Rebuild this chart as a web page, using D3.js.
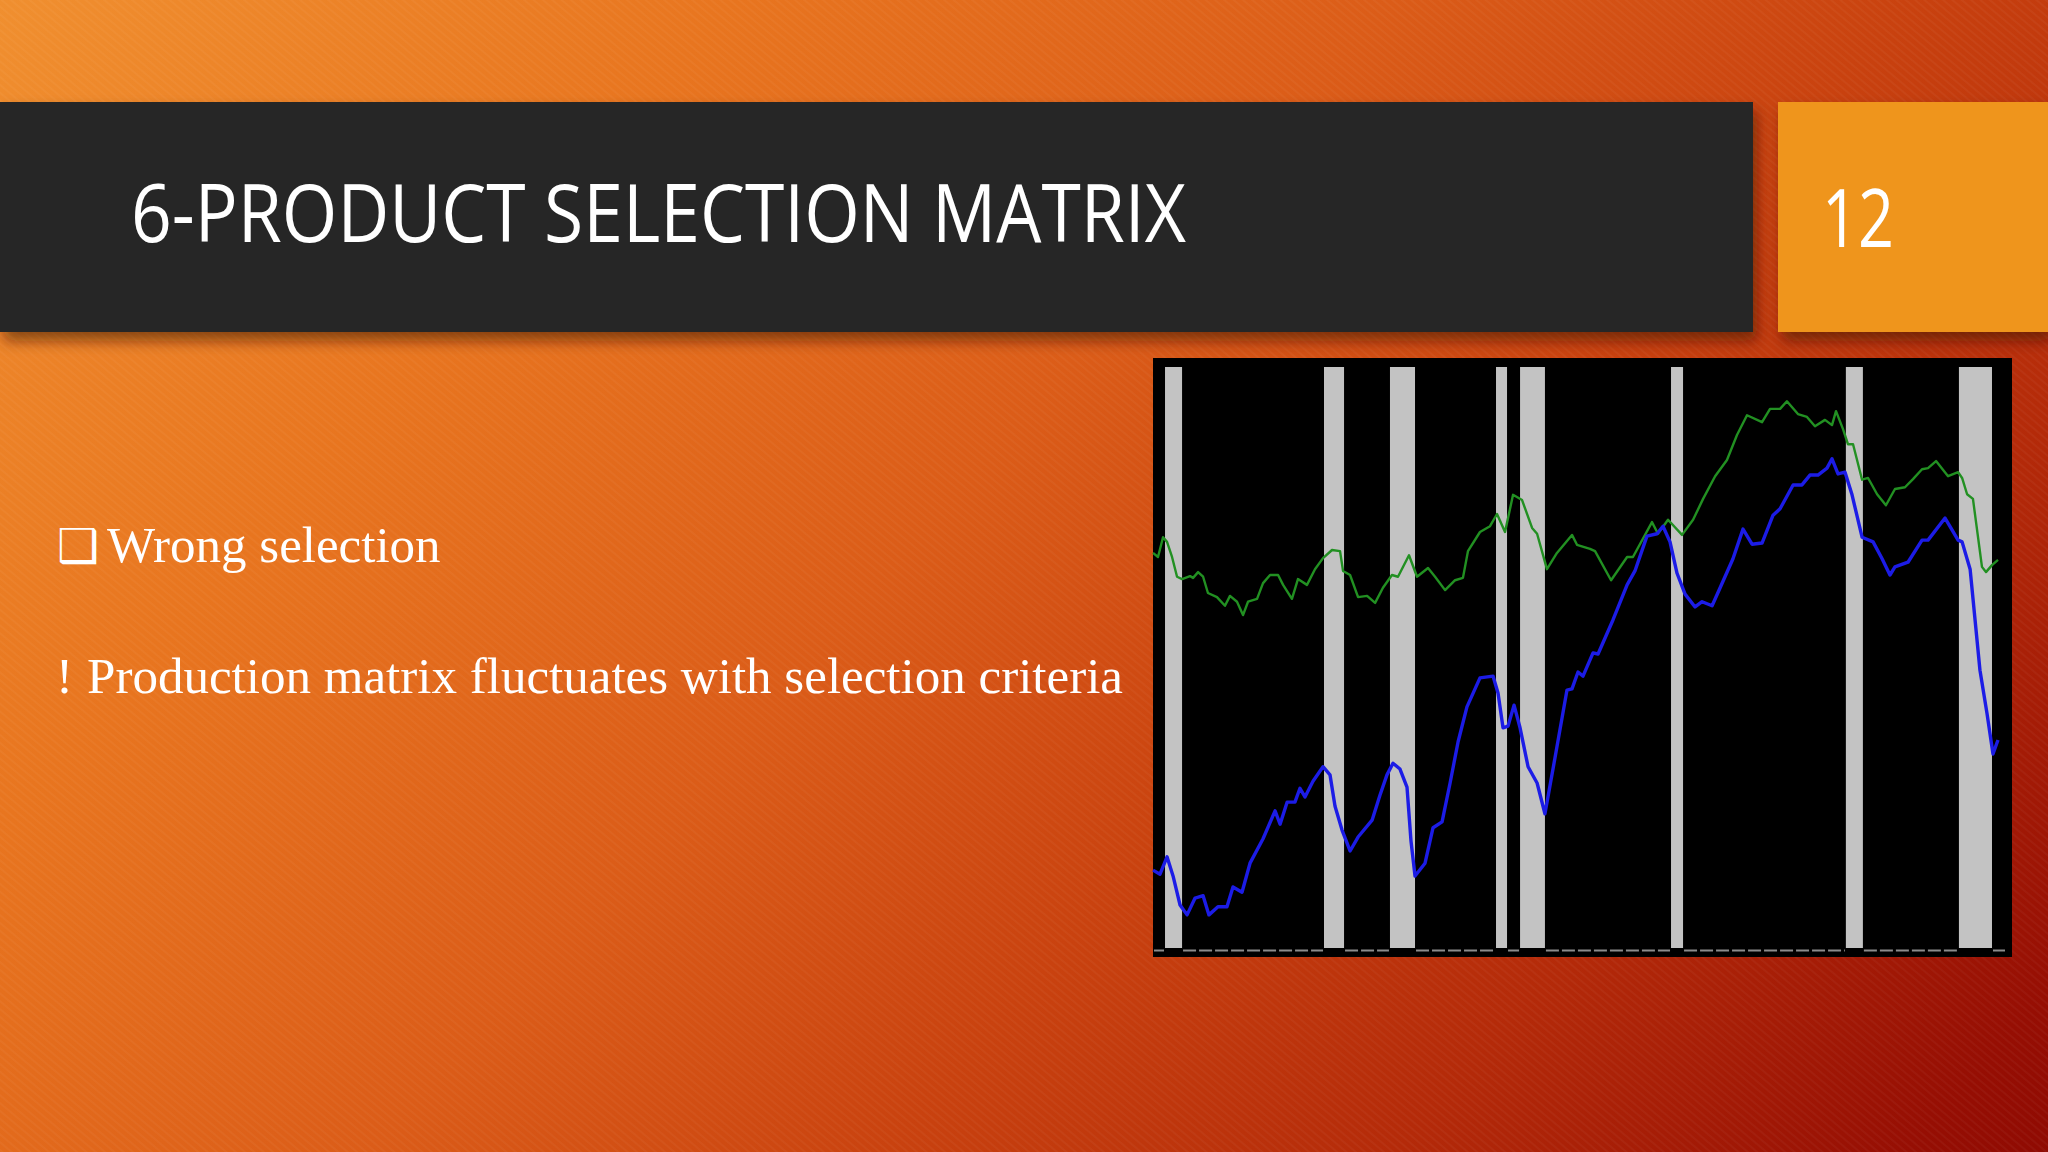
<!DOCTYPE html>
<html><head><meta charset="utf-8">
<script src="https://cdn.jsdelivr.net/npm/d3@7"></script>
<style>html,body{margin:0;padding:0;overflow:hidden;background:#000}</style>
</head><body>
<svg id="slide" width="2048" height="1152"></svg>
<script>
// ---- data ----
const titleText = "6-PRODUCT SELECTION MATRIX";
const slideNumber = "12";
const bullet1 = "Wrong selection";
const bullet2 = "Production matrix fluctuates with selection criteria";

// shaded periods (decimal years)
const shadeStart = [1960.33, 1969.85, 1973.80, 1980.15, 1981.59, 1990.63, 2001.10, 2007.87];
const shadeEnd   = [1961.35, 1971.05, 1975.30, 1980.81, 1983.08, 1991.35, 2002.12, 2009.85];

const greenYears = [1959.61,1959.91,1960.21,1960.45,1960.75,1961.05,1961.35,1961.83,1962.01,1962.31,1962.61,1962.90,1963.44,1963.92,1964.22,1964.64,1965.00,1965.30,1965.84,1966.20,1966.62,1967.10,1967.40,1967.93,1968.29,1968.83,1969.31,1969.79,1970.33,1970.81,1970.99,1971.41,1971.89,1972.43,1972.91,1973.38,1973.92,1974.28,1974.94,1975.42,1976.08,1976.50,1977.10,1977.70,1978.17,1978.47,1979.19,1979.79,1980.21,1980.69,1981.17,1981.71,1982.31,1982.61,1983.20,1983.80,1984.70,1985.00,1985.78,1986.08,1987.04,1988.00,1988.35,1989.49,1989.85,1990.45,1991.29,1991.95,1992.55,1993.27,1993.98,1994.58,1995.18,1996.08,1996.56,1997.16,1997.57,1998.23,1998.77,1999.25,1999.85,2000.27,2000.51,2000.93,2001.23,2001.53,2002.07,2002.43,2002.97,2003.50,2004.04,2004.64,2005.12,2005.66,2006.02,2006.50,2007.22,2007.82,2008.06,2008.36,2008.71,2009.25,2009.49,2009.85,2010.21];
const greenValues = [68.0,67.3,70.7,69.9,67.3,63.9,63.5,64.0,63.7,64.7,63.9,61.1,60.4,58.9,60.6,59.6,57.3,59.6,60.1,62.8,64.2,64.2,62.5,60.1,63.5,62.5,65.2,67.1,68.5,68.3,64.9,64.2,60.4,60.6,59.4,62.0,64.2,63.9,67.6,63.9,65.4,63.9,61.6,63.3,63.7,68.3,71.6,72.6,74.7,71.6,78.0,77.1,72.3,71.3,65.2,68.0,71.1,69.4,68.7,68.3,63.3,67.3,67.3,73.3,71.3,73.7,71.1,73.7,77.3,81.2,84.0,88.3,91.7,90.5,92.8,92.8,94.1,91.9,91.4,89.8,90.9,90.0,92.4,89.3,86.7,86.7,80.6,80.9,78.1,76.2,79.0,79.3,80.7,82.4,82.6,83.8,81.2,81.9,80.9,78.1,77.3,65.6,64.7,65.9,66.8];

const blueYears = [1959.61,1960.03,1960.45,1960.81,1961.23,1961.65,1962.13,1962.61,1962.96,1963.50,1964.04,1964.40,1964.94,1965.42,1966.20,1966.92,1967.22,1967.64,1968.11,1968.41,1968.71,1969.19,1969.79,1970.21,1970.51,1970.93,1971.41,1971.89,1972.73,1973.20,1973.62,1973.98,1974.40,1974.82,1975.06,1975.30,1975.90,1976.38,1976.92,1977.40,1977.88,1978.41,1979.19,1979.97,1980.27,1980.57,1980.87,1981.23,1981.59,1982.07,1982.61,1983.08,1983.68,1984.40,1984.70,1985.06,1985.36,1985.96,1986.26,1987.16,1988.00,1988.47,1989.19,1989.79,1990.15,1990.57,1990.99,1991.47,1992.07,1992.49,1993.09,1993.57,1994.34,1994.94,1995.48,1996.08,1996.74,1997.16,1997.94,1998.47,1998.95,1999.43,1999.97,2000.27,2000.63,2001.05,2001.47,2002.07,2002.73,2003.27,2003.74,2004.04,2004.82,2005.66,2006.02,2007.04,2007.82,2008.06,2008.54,2009.13,2009.55,2009.91,2010.21];
const blueValues = [13.4,12.7,15.7,12.4,7.4,5.7,8.6,9.0,5.7,7.1,7.1,10.5,9.6,14.6,18.8,23.6,21.3,25.1,25.1,27.5,26.0,28.7,31.2,29.8,24.4,20.3,16.7,19.1,22.0,26.3,29.8,31.8,30.8,27.7,18.4,12.4,14.6,20.7,21.7,28.4,35.5,41.5,46.5,46.8,43.9,37.9,38.2,41.8,37.9,31.2,28.4,23.1,32.7,44.4,44.6,47.5,46.8,50.8,50.6,56.5,62.5,64.9,70.9,71.3,72.6,69.9,64.5,60.9,58.7,59.6,58.9,62.0,67.0,72.1,69.5,69.7,74.5,75.6,79.7,79.7,81.4,81.4,82.6,84.2,81.6,81.9,78.0,70.7,69.9,67.0,64.2,65.6,66.4,70.2,70.2,74.0,70.2,69.9,65.2,47.8,40.4,33.4,35.8];

const yDomain = [0, 100];

// ---- drawing ----
const svg = d3.select("#slide");
const defs = svg.append("defs");

const bg = defs.append("linearGradient").attr("id","bg").attr("gradientUnits","userSpaceOnUse")
  .attr("x1",0).attr("y1",0).attr("x2",2048).attr("y2",1820);
[[0,"#f08f2f"],[0.2,"#e8751f"],[0.38,"#db5c18"],[0.52,"#c9420f"],[0.66,"#b42a09"],[0.8,"#960e03"],[0.9,"#840400"],[1,"#7a0200"]]
  .forEach(([o,c]) => bg.append("stop").attr("offset",o).attr("stop-color",c));

const pat = defs.append("pattern").attr("id","stripes").attr("width",6).attr("height",6)
  .attr("patternUnits","userSpaceOnUse").attr("patternTransform","rotate(-50)");
pat.append("rect").attr("width",2).attr("height",6).attr("fill","#ffffff").attr("opacity",0.035);

const sh = defs.append("filter").attr("id","shadow").attr("x","-5%").attr("y","-10%").attr("width","110%").attr("height","140%");
sh.append("feDropShadow").attr("dx",4).attr("dy",9).attr("stdDeviation",7)
  .attr("flood-color","#3a0800").attr("flood-opacity",0.55);

svg.append("rect").attr("width",2048).attr("height",1152).attr("fill","url(#bg)");
svg.append("rect").attr("width",2048).attr("height",1152).attr("fill","url(#stripes)");

// header bars
svg.append("rect").attr("x",0).attr("y",102).attr("width",1753).attr("height",230)
  .attr("fill","#262528").attr("filter","url(#shadow)");
svg.append("rect").attr("x",1778).attr("y",102).attr("width",270).attr("height",230)
  .attr("fill","#ef951b").attr("filter","url(#shadow)");

svg.append("text").attr("x",131).attr("y",242)
  .attr("font-family","'Open Sans', 'Noto Sans', sans-serif").attr("font-size",80)
  .attr("fill","#ffffff").attr("textLength",1055).attr("lengthAdjust","spacingAndGlyphs")
  .text(titleText);
svg.append("text").attr("x",1822).attr("y",247)
  .attr("font-family","'Open Sans', 'Noto Sans', sans-serif").attr("font-size",80)
  .attr("fill","#ffffff").attr("textLength",72).attr("lengthAdjust","spacingAndGlyphs")
  .text(slideNumber);

// bullets
svg.append("text").attr("x",57).attr("y",562)
  .attr("font-family","'DejaVu Sans', sans-serif").attr("font-size",47)
  .attr("fill","#ffffff").text("\u2751");
svg.append("text").attr("x",107).attr("y",562)
  .attr("font-family","'Liberation Serif', 'Times New Roman', serif").attr("font-size",51)
  .attr("fill","#ffffff").text(bullet1);
svg.append("text").attr("x",56).attr("y",693)
  .attr("font-family","'Liberation Serif', 'Times New Roman', serif").attr("font-size",51)
  .attr("fill","#ffffff").text("!");
svg.append("text").attr("x",87).attr("y",693)
  .attr("font-family","'Liberation Serif', 'Times New Roman', serif").attr("font-size",51)
  .attr("fill","#ffffff").attr("textLength",1036).attr("lengthAdjust","spacingAndGlyphs")
  .text(bullet2);

// chart
svg.append("rect").attr("x",1153).attr("y",358).attr("width",859).attr("height",599).attr("fill","#000");

const x = d3.scaleLinear().domain([1959.61, 2010.21]).range([1153, 1998]);
const y = d3.scaleLinear().domain(yDomain).range([948, 367]);
const xEnd = x.invert(2006);

// dashed baseline in gaps between shaded periods
const gapStarts = [x.domain()[0]].concat(shadeEnd);
const gapEnds = shadeStart.concat([xEnd]);
svg.append("g").selectAll("line").data(d3.range(gapStarts.length)).join("line")
  .attr("x1", i => x(gapStarts[i]) + 1).attr("x2", i => x(gapEnds[i]) - 1)
  .attr("y1", 950.5).attr("y2", 950.5)
  .attr("stroke","#8c8c8c").attr("stroke-width",2).attr("stroke-dasharray","13,3");

svg.append("g").selectAll("rect").data(d3.range(shadeStart.length)).join("rect")
  .attr("x", i => x(shadeStart[i]))
  .attr("width", i => x(shadeEnd[i]) - x(shadeStart[i]))
  .attr("y", y(yDomain[1])).attr("height", y(yDomain[0]) - y(yDomain[1]))
  .attr("fill","#c3c3c3");

const line = d3.line().x(d => x(d[0])).y(d => y(d[1]));
svg.append("path").datum(d3.zip(greenYears, greenValues)).attr("d", line)
  .attr("fill","none").attr("stroke","#229022").attr("stroke-width",2.4).attr("stroke-linejoin","round");
svg.append("path").datum(d3.zip(blueYears, blueValues)).attr("d", line)
  .attr("fill","none").attr("stroke","#1c1ce6").attr("stroke-width",3.4).attr("stroke-linejoin","round");
</script>
</body></html>
